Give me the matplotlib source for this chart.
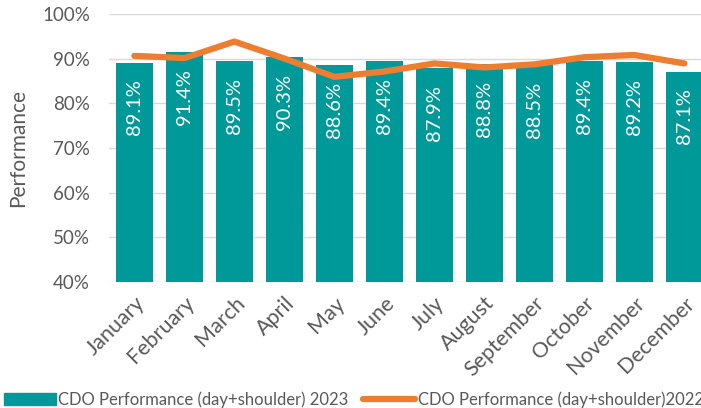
import matplotlib.pyplot as plt
import matplotlib.ticker as ticker
from matplotlib.patches import Patch
from matplotlib.lines import Line2D

months = ["January", "February", "March", "April", "May", "June", "July",
          "August", "September", "October", "November", "December"]
perf_2023 = [89.1, 91.4, 89.5, 90.3, 88.6, 89.4, 87.9, 88.8, 88.5, 89.4, 89.2, 87.1]
perf_2022 = [90.6, 90.1, 93.8, 90.0, 85.9, 87.1, 88.9, 88.0, 88.7, 90.3, 90.8, 88.9]

teal = "#009999"
orange = "#ED7D31"
grey = "#595959"

plt.rcParams["font.family"] = ["Lato", "DejaVu Sans"]

fig = plt.figure(figsize=(7.01, 4.08), dpi=100)
# axes runs a little past the right edge, as in the original
ax = fig.add_axes([0.156, 0.309, 0.856, 0.657])

x = list(range(len(months)))
ax.bar(x, perf_2023, width=0.73, color=teal, zorder=2)
ax.plot(x, perf_2022, color=orange, linewidth=4.5, solid_capstyle="round", zorder=3)

for xi, v in zip(x, perf_2023):
    ax.text(xi, v - 3.8, f"{v:.1f}%", rotation=90, ha="center", va="top",
            color="white", fontsize=14.5, zorder=4)

ax.set_xlim(-0.5, len(months) - 0.5)
ax.set_ylim(40, 100)
ax.yaxis.set_major_locator(ticker.MultipleLocator(10))
ax.yaxis.set_major_formatter(ticker.FuncFormatter(lambda v, p: f"{v:.0f}%"))
ax.grid(axis="y", color="#d9d9d9", linewidth=1, zorder=0)
for s in ax.spines.values():
    s.set_visible(False)
ax.tick_params(axis="both", length=0, colors=grey)
ax.tick_params(axis="y", pad=14, labelsize=13.5)
ax.tick_params(axis="x", pad=8, labelsize=15.5)
ax.set_xticks(x)
ax.set_xticklabels(months, rotation=45, ha="right", rotation_mode="anchor")
ax.set_ylabel("Performance", color=grey, fontsize=15, labelpad=10)

handles = [Patch(color=teal), Line2D([0], [0], color=orange, linewidth=4.5, solid_capstyle="round")]
labels = ["CDO Performance (day+shoulder) 2023", "CDO Performance (day+shoulder)2022"]
fig.legend(handles, labels, loc="lower left", bbox_to_anchor=(4 / 701, 0.0), ncol=2,
           frameon=False, fontsize=12, labelcolor=grey, handlelength=3.1,
           handletextpad=0.15, columnspacing=0.9, borderpad=0.0, borderaxespad=0.0)

fig.savefig("out.png", dpi=100)
